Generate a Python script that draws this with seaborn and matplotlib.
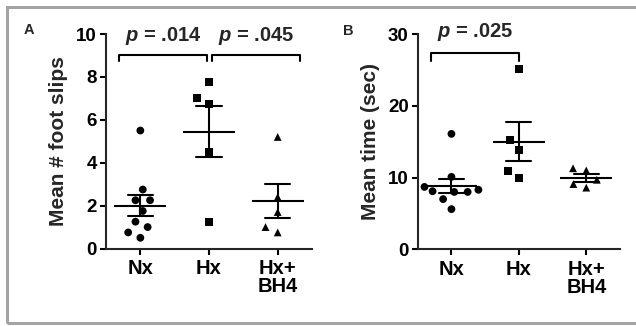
import pandas as pd
import numpy as np
import matplotlib.pyplot as plt
import seaborn as sns
from matplotlib.patches import Rectangle

# values
groups = ['Nx', 'Hx', 'Hx+\nBH4']
a_nx = [2.75, 2.25, 2.25, 1.75, 1.0, 1.25, 0.75, 0.5, 5.5]
a_hx = [7.75, 7.0, 6.75, 4.5, 1.25]
a_bh4 = [5.2, 2.4, 1.7, 0.75, 1.0]
b_nx = [8.3, 8.0, 8.0, 8.1, 8.7, 10.1, 7.0, 5.6, 16.1]
b_hx = [25.1, 15.2, 13.9, 10.9, 9.9]
b_bh4 = [11.3, 11.0, 9.7, 9.1, 8.6]
markers = ['o', 's', '^']

sns.set_style('ticks')
plt.rcParams['font.family'] = ['Liberation Sans', 'DejaVu Sans']
plt.rcParams['font.weight'] = 'bold'
plt.rcParams['mathtext.fontset'] = 'custom'
plt.rcParams['mathtext.it'] = 'Liberation Sans:italic:bold'
plt.rcParams['mathtext.rm'] = 'Liberation Sans:bold'


def make_df(vals):
    rows = []
    for g, v in zip(groups, vals):
        rows += [(g, x) for x in v]
    return pd.DataFrame(rows, columns=['Group', 'Value'])


df_a = make_df([a_nx, a_hx, a_bh4])
df_b = make_df([b_nx, b_hx, b_bh4])

fig = plt.figure(figsize=(6.36, 3.26), dpi=100)
ax_a = fig.add_axes([0.1667, 0.2377, 0.3239, 0.658])
ax_b = fig.add_axes([0.6568, 0.2353, 0.318, 0.6597])


def panel(ax, df, ymax, ystep, ylabel):
    for g, m in zip(groups, markers):
        # invisible thick edge widens the swarm spacing like the original
        sns.swarmplot(data=df[df['Group'] == g], x='Group', y='Value', order=groups,
                      marker=m, color='black', size=5.6, linewidth=3.6,
                      edgecolor='none', ax=ax)
    sns.pointplot(data=df, x='Group', y='Value', order=groups, errorbar='se',
                  capsize=0.37, marker='_', markersize=38, markeredgewidth=1.5,
                  linestyle='none', color='black', err_kws={'linewidth': 1.5}, ax=ax)
    ax.set_xlim(-0.5, 2.5)
    ax.set_ylim(0, ymax)
    ax.set_yticks(np.arange(0, ymax + 1, ystep))
    sns.despine(ax=ax)
    for s in ['left', 'bottom']:
        ax.spines[s].set_linewidth(1.5)
    ax.tick_params(width=1.5, length=4.3, colors='black')
    ax.tick_params(axis='x', labelsize=14.5, pad=3.2)
    ax.tick_params(axis='y', labelsize=13.5, pad=2.2)
    for lab in ax.get_xticklabels():
        lab.set_linespacing(0.95)
    ax.set_xlabel('')
    ax.set_ylabel(ylabel, fontsize=15, fontweight='bold', labelpad=6)


def bracket(ax, x0, x1, y, drop, text):
    ax.plot([x0, x0, x1, x1], [y - drop, y, y, y - drop], color='black',
            linewidth=1.5, clip_on=False)
    ax.text((x0 + x1) / 2, y + drop * 1.3, text, ha='center', va='bottom',
            fontsize=14.5, fontweight='bold', clip_on=False)


panel(ax_a, df_a, 10, 2, 'Mean # foot slips')
panel(ax_b, df_b, 30, 10, 'Mean time (sec)')

bracket(ax_a, -0.31, 0.97, 9.02, 0.3, r'$p$ = .014')
bracket(ax_a, 1.05, 2.32, 9.02, 0.3, r'$p$ = .045')
bracket(ax_b, -0.30, 1.0, 27.4, 1.1, r'$p$ = .025')

fig.text(24 / 636, 1 - 34 / 326, 'A', fontsize=10.5, fontweight='bold')
fig.text(343 / 636, 1 - 35 / 326, 'B', fontsize=10.5, fontweight='bold')

# grey frame round the figure
fig.patches.append(Rectangle((6.5 / 636, 1 - 322.5 / 326), 1.2, (322.5 - 6.5) / 326,
                             transform=fig.transFigure, fill=False,
                             edgecolor='#a4a4a4', linewidth=2.2))

fig.savefig('out.png', dpi=100)
